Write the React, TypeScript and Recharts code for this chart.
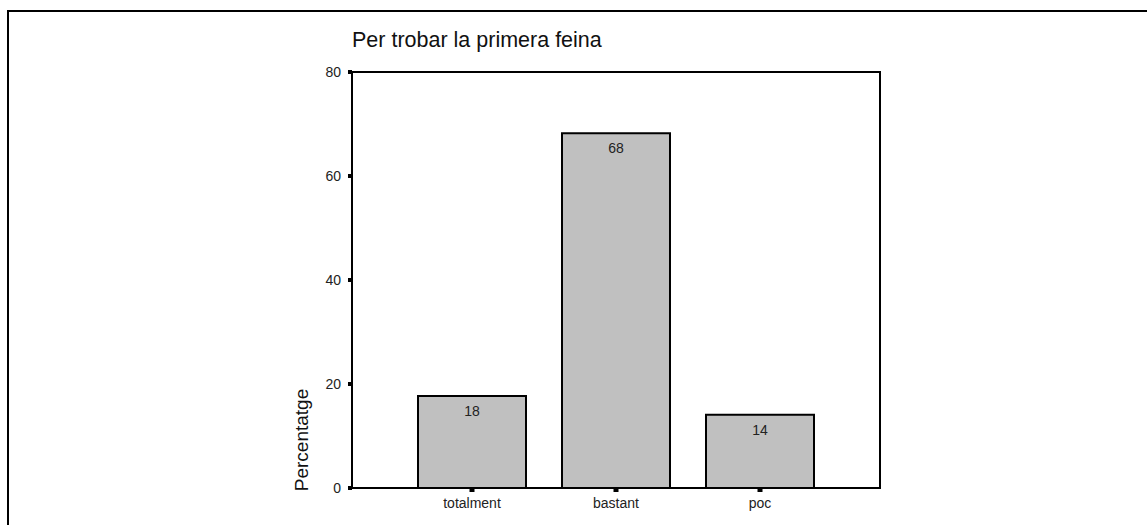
import { BarChart, Bar, XAxis, YAxis, LabelList } from 'recharts';

const categories = ['totalment', 'bastant', 'poc'];
const percentages = [17.7, 68.2, 14.1];
const yTicks = [0, 20, 40, 60, 80];

const data = categories.map((name, i) => ({ name, value: percentages[i] }));

const FONT = '"Liberation Sans", Arial, Helvetica, sans-serif';

/**
 * Bar chart "Per trobar la primera feina" in the old SPSS style:
 * grey bars with black outline, boxed plot area, frame on top/left.
 */
export default function App() {
  return (
    <div style={{ position: 'absolute', left: 0, top: 0, width: 1147, height: 525, fontFamily: FONT }}>
      {/* outer frame, only top and left edges are visible */}
      <div
        style={{
          position: 'absolute',
          left: 7,
          top: 10,
          width: 1140,
          height: 515,
          borderTop: '2px solid #000',
          borderLeft: '2px solid #000',
          boxSizing: 'border-box',
        }}
      />
      <div
        style={{
          position: 'absolute',
          left: 352,
          top: 28,
          fontSize: 21.5,
          color: '#111',
          whiteSpace: 'nowrap',
        }}
      >
        Per trobar la primera feina
      </div>
      <div style={{ position: 'absolute', left: 0, top: 0 }}>
        <BarChart
          width={1147}
          height={525}
          data={data}
          margin={{ top: 72, right: 267, left: 292, bottom: 7 }}
          barCategoryGap="12.5%"
        >
          <XAxis
            dataKey="name"
            padding={{ left: 48, right: 48 }}
            axisLine={{ stroke: '#000', strokeWidth: 2 }}
            tickLine={{ stroke: '#000', strokeWidth: 5 }}
            tickSize={4}
            tickMargin={6}
            height={30}
            interval={0}
            tick={{ fontSize: 14, fill: '#222', fontFamily: FONT }}
          />
          <YAxis
            domain={[0, 80]}
            ticks={yTicks}
            width={60}
            axisLine={{ stroke: '#000', strokeWidth: 2 }}
            tickLine={{ stroke: '#000', strokeWidth: 4 }}
            tickSize={4}
            tickMargin={7}
            tick={{ fontSize: 14, fill: '#222', fontFamily: FONT }}
            label={{
              content: () => (
                <text
                  x={308}
                  y={440}
                  transform="rotate(-90, 308, 440)"
                  textAnchor="middle"
                  fontSize={19}
                  fill="#111"
                  fontFamily={FONT}
                >
                  Percentatge
                </text>
              ),
            }}
          />
          <Bar
            dataKey="value"
            fill="#C0C0C0"
            stroke="#000"
            strokeWidth={2}
            isAnimationActive={false}
          >
            <LabelList
              dataKey="value"
              position="insideTop"
              offset={10}
              formatter={(v: number) => Math.round(v)}
              style={{ fontSize: 14, fill: '#222', fontFamily: FONT }}
            />
          </Bar>
        </BarChart>
      </div>
      {/* top and right edges of the plot box */}
      <div
        style={{
          position: 'absolute',
          left: 351,
          top: 71,
          width: 530,
          height: 418,
          borderTop: '2px solid #000',
          borderRight: '2px solid #000',
          boxSizing: 'border-box',
          pointerEvents: 'none',
        }}
      />
    </div>
  );
}
